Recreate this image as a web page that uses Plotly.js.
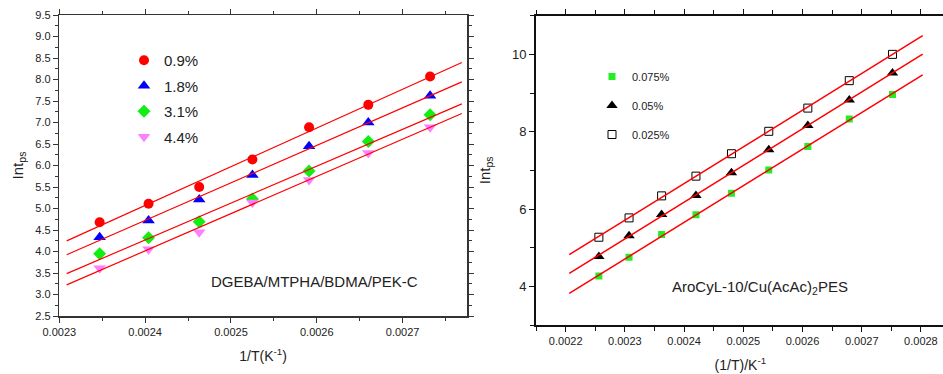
<!DOCTYPE html>
<html><head><meta charset="utf-8">
<script src="https://cdn.plot.ly/plotly-3.0.1.min.js"></script>
<style>html,body{margin:0;padding:0;overflow:hidden;background:#fff;width:943px;height:374px}#chart{width:950px;height:374px}</style>
</head><body><div id="chart"></div>
<script>
// Left panel: DGEBA/MTPHA/BDMA/PEK-C
const leftX = [0.002347, 0.002404, 0.002463, 0.002525, 0.002591, 0.00266, 0.002732];
const leftNames = ['0.9%', '1.8%', '3.1%', '4.4%'];
const left09 = [4.68, 5.11, 5.50, 6.14, 6.89, 7.41, 8.07];
const left18 = [4.33, 4.72, 5.21, 5.78, 6.45, 7.00, 7.62];
const left31 = [3.95, 4.32, 4.69, 5.22, 5.87, 6.56, 7.18];
const left44 = [3.61, 4.05, 4.45, 5.14, 5.66, 6.29, 6.89];
const leftFitRange = [0.0023086, 0.002769];

// Right panel: AroCyL-10/Cu(AcAc)2PES
const rightX = [0.002256, 0.002307, 0.002362, 0.00242, 0.00248, 0.002543, 0.002609, 0.002679, 0.002752];
const rightNames = ['0.075%', '0.05%', '0.025%'];
const right075 = [4.27, 4.75, 5.34, 5.85, 6.41, 7.01, 7.62, 8.33, 8.96];
const right05 = [4.77, 5.31, 5.86, 6.35, 6.94, 7.53, 8.16, 8.82, 9.52];
const right025 = [5.27, 5.77, 6.34, 6.85, 7.43, 8.01, 8.61, 9.32, 10.0];
const rightFitRange = [0.002206, 0.002803];

function fit(xs, ys, range) {
  const n = xs.length;
  const mx = xs.reduce((a, b) => a + b, 0) / n;
  const my = ys.reduce((a, b) => a + b, 0) / n;
  let sxy = 0, sxx = 0;
  for (let i = 0; i < n; i++) { sxy += (xs[i] - mx) * (ys[i] - my); sxx += (xs[i] - mx) ** 2; }
  const b = sxy / sxx, a = my - b * mx;
  return { x: range.slice(), y: range.map(v => a + b * v) };
}

const FONT = 'Liberation Sans, Arial, sans-serif';
const traces = [];
const leftSets = [
  { y: left09, name: leftNames[0], sym: 'circle', color: '#ff0000', size: 10 },
  { y: left18, name: leftNames[1], sym: 'triangle-up', color: '#0000ff', size: 11 },
  { y: left31, name: leftNames[2], sym: 'diamond', color: '#11ee11', size: 10 },
  { y: left44, name: leftNames[3], sym: 'triangle-down', color: '#ff80ff', size: 11 }
];
leftSets.forEach((s, i) => {
  traces.push({ type: 'scatter', mode: 'markers', x: leftX, y: s.y, name: s.name,
    legend: 'legend', legendgroup: 'L' + i,
    marker: { symbol: s.sym, color: s.color, size: s.size, line: { width: 0 } },
    xaxis: 'x', yaxis: 'y' });
});
leftSets.forEach(s => {
  const f = fit(leftX, s.y, leftFitRange);
  traces.push({ type: 'scatter', mode: 'lines', x: f.x, y: f.y, showlegend: false, hoverinfo: 'skip',
    line: { color: '#ff0000', width: 1.2 }, xaxis: 'x', yaxis: 'y' });
});

const rightSets = [
  { y: right075, name: rightNames[0], sym: 'square', color: '#22ee22', size: 7, lw: 0, lc: '#22ee22' },
  { y: right05, name: rightNames[1], sym: 'triangle-up', color: '#000000', size: 10, lw: 0, lc: '#000' },
  { y: right025, name: rightNames[2], sym: 'square-open', color: '#000000', size: 8, lw: 1, lc: '#000' }
];
rightSets.forEach((s, i) => {
  traces.push({ type: 'scatter', mode: 'markers', x: rightX, y: s.y, name: s.name,
    legend: 'legend2', legendgroup: 'R' + i,
    marker: { symbol: s.sym, color: s.color, size: s.size, line: { width: s.lw, color: s.lc } },
    xaxis: 'x2', yaxis: 'y2' });
});
rightSets.forEach(s => {
  const f = fit(rightX, s.y, rightFitRange);
  traces.push({ type: 'scatter', mode: 'lines', x: f.x, y: f.y, showlegend: false, hoverinfo: 'skip',
    line: { color: '#ff0000', width: 1.5 }, xaxis: 'x2', yaxis: 'y2' });
});

const W = 950, H = 374;
const axBase = {
  showgrid: false, zeroline: false, showline: true, mirror: 'ticks',
  ticks: 'outside', ticklen: 5, tickwidth: 1, tickcolor: '#333', linecolor: '#333',
  tickfont: { family: FONT, size: 11, color: '#222' }
};
const layout = {
  width: W, height: H,
  margin: { l: 0, r: 0, t: 0, b: 0 },
  paper_bgcolor: '#fff', plot_bgcolor: '#fff',
  font: { family: FONT, color: '#222' },
  xaxis: Object.assign({}, axBase, {
    domain: [59.3 / W, 467 / W], range: [0.0023, 0.002775], dtick: 0.0001, tick0: 0.0023,
    tickformat: '.4f', linewidth: 1.5,
    minor: { dtick: 0.00005, ticks: 'outside', ticklen: 3, tickcolor: '#333' },
    title: { text: '1/T(K<sup>-1</sup>)', font: { family: FONT, size: 14, color: '#222' }, standoff: 14 },
    anchor: 'y'
  }),
  yaxis: Object.assign({}, axBase, {
    domain: [(H - 316) / H, (H - 15) / H], range: [2.5, 9.5], dtick: 0.5, tick0: 2.5,
    tickformat: '.1f', linewidth: 1.5,
    minor: { dtick: 0.25, ticks: 'outside', ticklen: 3, tickcolor: '#333' },
    title: { text: 'Int<sub>ps</sub>', font: { family: FONT, size: 15, color: '#222' }, standoff: 8 },
    anchor: 'x'
  }),
  xaxis2: Object.assign({}, axBase, {
    domain: [536.1 / W, 944.6 / W], range: [0.00215, 0.00284], dtick: 0.0001, tick0: 0.0022,
    tickformat: '.4f', linewidth: 2, linecolor: '#111', tickcolor: '#111',
    minor: { dtick: 0.00005, ticks: 'outside', ticklen: 4, tickcolor: '#111' },
    title: { text: '(1/T)/K<sup>-1</sup>', font: { family: FONT, size: 14, color: '#222' }, standoff: 14 },
    anchor: 'y2'
  }),
  yaxis2: Object.assign({}, axBase, {
    domain: [(H - 325) / H, (H - 15.7) / H], range: [3, 11], dtick: 2, tick0: 0,
    linewidth: 2, linecolor: '#111', tickcolor: '#111',
    tickfont: { family: FONT, size: 13, color: '#222' },
    minor: { dtick: 1, ticks: 'outside', ticklen: 4, tickcolor: '#111' },
    title: { text: 'Int<sub>ps</sub>', font: { family: FONT, size: 15, color: '#222' }, standoff: 18 },
    anchor: 'x2'
  }),
  legend: {
    x: 124 / W, y: (H - 44) / H, xanchor: 'left', yanchor: 'top',
    bgcolor: 'rgba(0,0,0,0)', borderwidth: 0, tracegroupgap: 3,
    font: { family: FONT, size: 15, color: '#222' }, itemwidth: 30
  },
  legend2: {
    x: 592 / W, y: (H - 62) / H, xanchor: 'left', yanchor: 'top',
    bgcolor: 'rgba(0,0,0,0)', borderwidth: 0, tracegroupgap: 10,
    font: { family: FONT, size: 11, color: '#222' }, itemwidth: 30
  },
  annotations: [
    { xref: 'x', yref: 'y', x: 0.002474, y: 3.30, text: 'DGEBA/MTPHA/BDMA/PEK-C', showarrow: false,
      xanchor: 'left', yanchor: 'middle', font: { family: FONT, size: 15, color: '#222' } },
    { xref: 'x2', yref: 'y2', x: 0.002376, y: 3.97, text: 'AroCyL-10/Cu(AcAc)<sub>2</sub>PES', showarrow: false,
      xanchor: 'left', yanchor: 'middle', font: { family: FONT, size: 15, color: '#222' } }
  ],
  showlegend: true
};
Plotly.newPlot('chart', traces, layout, { displayModeBar: false, staticPlot: true });
</script></body></html>
